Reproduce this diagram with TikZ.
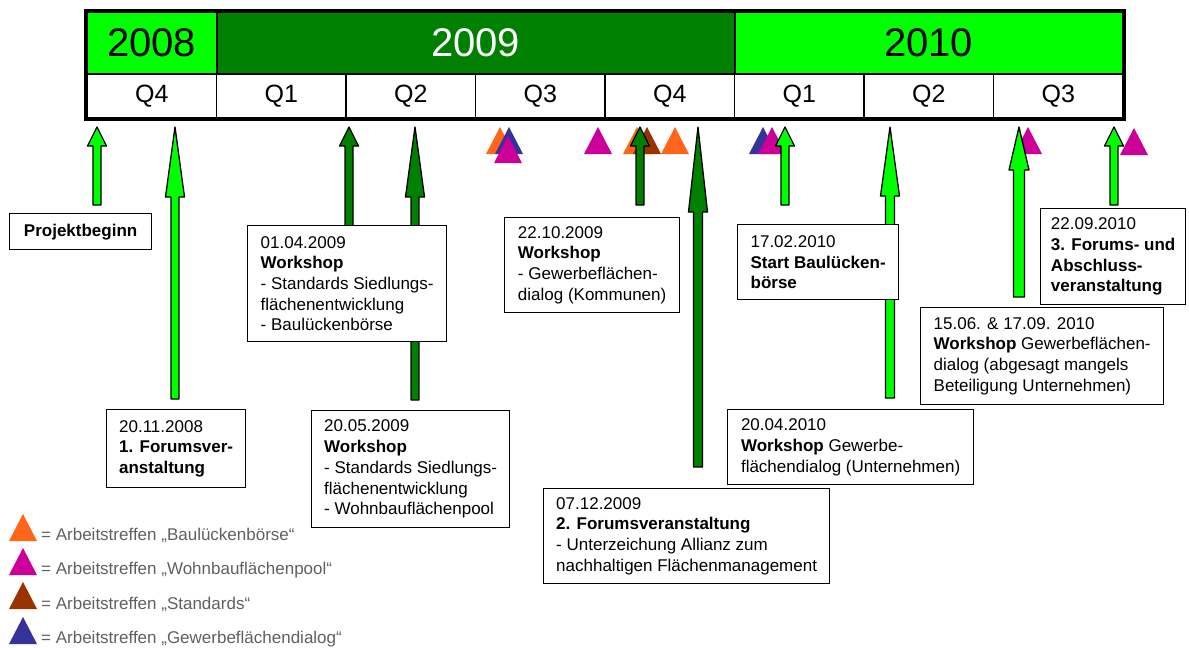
\documentclass[tikz,border=0pt]{standalone}
\usepackage{fontspec}
\setmainfont{Liberation Sans}
\usetikzlibrary{calc}

\definecolor{yrlight}{HTML}{00FF00}
\definecolor{yrdark}{HTML}{008000}
\definecolor{mkorange}{HTML}{FF661A}
\definecolor{mkpurple}{HTML}{CC0099}
\definecolor{mkbrown}{HTML}{993300}
\definecolor{mkblue}{HTML}{333399}
\definecolor{legendgray}{HTML}{606060}

\tikzset{
  yearcell/.style={draw=black, line width=2pt, minimum height=62pt, inner sep=0pt, font=\fontsize{40}{40}\selectfont},
  qcell/.style={draw=black, line width=1.5pt, fill=white, minimum width=129.5pt, minimum height=44pt, inner sep=0pt, font=\fontsize{25}{25}\selectfont},
  infobox/.style={draw=black, line width=1.3pt, fill=white, anchor=north west, align=left, inner sep=0pt, font=\fontsize{17}{20.7}\selectfont},
  blockarrow/.style={draw=black, line width=1.3pt, line join=round},
  legendtext/.style={anchor=west, inner sep=0pt, text=legendgray, font=\fontsize{17}{20}\selectfont}
}

% arrow from the time bar down to an event
\newcommand\eventarrow[6]{%
  \path[blockarrow, fill=#1] let \p1=(#2), \p2=(#3) in
    (\x1,\y1) -- ({\x1+#5},{\y1-#4}) -- ({\x1+#6},{\y1-#4}) -- ({\x1+#6},\y2)
    -- ({\x1-#6},\y2) -- ({\x1-#6},{\y1-#4}) -- ({\x1-#5},{\y1-#4}) -- cycle;}
% meeting marker
\newcommand\meeting[3]{\fill[#1] ({#2-14},#3) -- ({#2+14},#3) -- (#2,{#3-27}) -- cycle;}

\begin{document}
\begin{tikzpicture}[x=1pt, y=-1pt]
	\useasboundingbox (0,0) rectangle (1189,648);
	% time bar
	\node[yearcell, fill=yrlight, minimum width=129.5pt] (y2008) at (151.75,43) {2008};
	\node[yearcell, fill=yrdark, text=white, minimum width=518pt] (y2009) at (475.5,43) {2009};
	\node[yearcell, fill=yrlight, minimum width=388.5pt] (y2010) at (928.75,43) {2010};
	\node[qcell] (q0) at (151.75,96) {Q4};
	\node[qcell] (q1) at (281.25,96) {Q1};
	\node[qcell] (q2) at (410.75,96) {Q2};
	\node[qcell] (q3) at (540.25,96) {Q3};
	\node[qcell] (q4) at (669.75,96) {Q4};
	\node[qcell] (q5) at (799.25,96) {Q1};
	\node[qcell] (q6) at (928.75,96) {Q2};
	\node[qcell] (q7) at (1058.25,96) {Q3};
	\draw[line width=4pt] (y2008.north west) rectangle (q7.south east);
	% meetings
	\meeting{mkorange}{500}{154}
	\meeting{mkblue}{509}{154}
	\meeting{mkpurple}{508}{163}
	\meeting{mkpurple}{598}{154}
	\meeting{mkorange}{637}{154}
	\meeting{mkbrown}{647}{154}
	\meeting{mkorange}{675}{154}
	\meeting{mkblue}{763}{154}
	\meeting{mkpurple}{772}{154}
	\meeting{mkpurple}{1028}{154}
	\meeting{mkpurple}{1134}{155}
	% arrows
	\coordinate (t0) at (97,127);   \coordinate (f0) at (97,205);
	\coordinate (t1) at (175,127);  \coordinate (f1) at (175,399);
	\coordinate (t2) at (349,127);  \coordinate (f2) at (349,230);
	\coordinate (t3) at (415,127);  \coordinate (f3) at (415,400);
	\coordinate (t4) at (640,127);  \coordinate (f4) at (640,205);
	\coordinate (t5) at (698,127);  \coordinate (f5) at (698,467);
	\coordinate (t6) at (785,127);  \coordinate (f6) at (785,205);
	\coordinate (t7) at (890,127);  \coordinate (f7) at (890,398);
	\coordinate (t8) at (1019,127); \coordinate (f8) at (1019,297);
	\coordinate (t9) at (1114,127); \coordinate (f9) at (1114,205);
	\eventarrow{yrlight}{t0}{f0}{19pt}{9.5pt}{4pt}
	\eventarrow{yrlight}{t1}{f1}{70pt}{9.5pt}{4pt}
	\eventarrow{yrdark}{t2}{f2}{19pt}{9.5pt}{4pt}
	\eventarrow{yrdark}{t3}{f3}{70pt}{9.5pt}{4pt}
	\eventarrow{yrdark}{t4}{f4}{19pt}{9.5pt}{4pt}
	\eventarrow{yrdark}{t5}{f5}{85pt}{9.5pt}{4.5pt}
	\eventarrow{yrlight}{t6}{f6}{19pt}{9.5pt}{4pt}
	\eventarrow{yrlight}{t7}{f7}{69pt}{9.5pt}{4.5pt}
	\eventarrow{yrlight}{t8}{f8}{43pt}{10pt}{5.5pt}
	\eventarrow{yrlight}{t9}{f9}{19pt}{9.5pt}{4pt}
	% event boxes
	\node[infobox, minimum width=142pt, minimum height=36pt] (start) at (9,213) {\textbf{Projektbeginn}};
	\node[infobox, minimum width=139pt, minimum height=78pt] (forum1) at (106,409) {20.11.2008\\\textbf{1. Forumsver-}\\\textbf{anstaltung}};
	\node[infobox, minimum width=199pt, minimum height=116pt] (ws0104) at (247,225) {01.04.2009\\\textbf{Workshop}\\- Standards Siedlungs-\\flächenentwicklung\\- Baulückenbörse};
	\node[infobox, minimum width=198pt, minimum height=117pt] (ws2005) at (311,410) {20.05.2009\\\textbf{Workshop}\\- Standards Siedlungs-\\flächenentwicklung\\- Wohnbauflächenpool};
	\node[infobox, minimum width=175pt, minimum height=95pt] (ws2210) at (504,217) {22.10.2009\\\textbf{Workshop}\\- Gewerbeflächen-\\dialog (Kommunen)};
	\node[infobox, minimum width=286pt, minimum height=95pt] (forum2) at (543,488) {07.12.2009\\\textbf{2. Forumsveranstaltung}\\- Unterzeichung Allianz zum\\nachhaltigen Flächenmanagement};
	\node[infobox, minimum width=161pt, minimum height=75pt] (boerse) at (737,224) {17.02.2010\\\textbf{Start Baulücken-}\\\textbf{börse}};
	\node[infobox, minimum width=246pt, minimum height=75pt] (ws2004) at (727,409) {20.04.2010\\\textbf{Workshop} Gewerbe-\\flächendialog (Unternehmen)};
	\node[infobox, minimum width=243pt, minimum height=97pt] (ws1506) at (920,307) {15.06. \& 17.09. 2010\\\textbf{Workshop} Gewerbeflächen-\\dialog (abgesagt mangels\\Beteiligung Unternehmen)};
	\node[infobox, minimum width=145pt, minimum height=96pt] (forum3) at (1040,208) {22.09.2010\\\textbf{3. Forums- und}\\\textbf{Abschluss-}\\\textbf{veranstaltung}};
	% legend
	\meeting{mkorange}{23}{541}
	\meeting{mkpurple}{23}{575}
	\meeting{mkbrown}{23}{609}
	\meeting{mkblue}{23}{644}
	\node[legendtext] (lg1) at (41,535) {= Arbeitstreffen „Baulückenbörse“};
	\node[legendtext] (lg2) at (41,570) {= Arbeitstreffen „Wohnbauflächenpool“};
	\node[legendtext] (lg3) at (41,604) {= Arbeitstreffen „Standards“};
	\node[legendtext] (lg4) at (41,639) {= Arbeitstreffen „Gewerbeflächendialog“};
\end{tikzpicture}
\end{document}
